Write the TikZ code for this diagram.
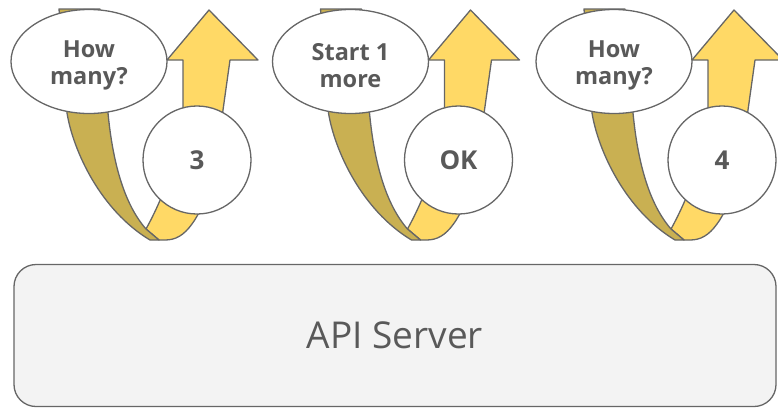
\documentclass[tikz,border=0pt]{standalone}
\usepackage{fontspec}
\setmainfont{Open Sans}
\usetikzlibrary{shapes.geometric}
\definecolor{edge}{HTML}{666666}
\definecolor{txt}{HTML}{595959}
\definecolor{ylw}{HTML}{FFD966}
\definecolor{drk}{HTML}{C9B052}
\definecolor{boxfill}{HTML}{F3F3F3}
\tikzset{
  ribbonline/.style={draw=edge, line width=1.3pt, line join=round},
  bubble/.style={ellipse, draw=edge, fill=white, line width=1.3pt, minimum width=156pt, minimum height=104pt, inner sep=0pt},
  bubbletext/.style={inner sep=0pt, align=center, text=txt, font=\fontsize{23.5}{27}\selectfont\bfseries},
  answer/.style={circle, draw=edge, fill=white, line width=1.3pt, minimum size=108pt, inner sep=0pt, text=txt, font=\fontsize{26}{30}\selectfont\bfseries},
  server/.style={rectangle, rounded corners=22pt, draw=edge, fill=boxfill, line width=1.3pt, minimum width=762pt, minimum height=142pt, text=txt, font=\fontsize{37}{44}\selectfont}
}
\newcommand\uturn[4]{%
  \begin{scope}[xshift=#1pt]
    \path[ribbonline, fill=ylw] (167,60) -- (209,10) -- (258,60) -- (230,60) -- (223,110)
      .. controls (216,170) and (206,205) .. (192,224)
      .. controls (184,235) and (176,240) .. (165,240) -- (159,240) -- (146,229)
      .. controls (162,200) and (183,150) .. (183,107) -- (183,60) -- cycle;
    \path[ribbonline, fill=drk] (59,9) -- (100,9) -- (108,113)
      .. controls (113,165) and (125,205) .. (146,229) -- (159,240) -- (150,240)
      .. controls (100,210) and (73,150) .. (67,113) -- cycle;
    \node[bubble] (q#2) at (89,61.5) {};
    \node[bubbletext] (qt#2) at ([yshift=-4pt]q#2.center) {#3};
    \node[answer] (a#2) at (197,160) {#4};
  \end{scope}}
\begin{document}
\begin{tikzpicture}[x=1pt,y=-1pt]
\useasboundingbox (0,0) rectangle (778,408);
\node[server] (api) at (395,335.5) {API Server};
\uturn{0}{1}{How\\many?}{3}
\uturn{261.5}{2}{Start 1\\more}{OK}
\uturn{525}{3}{How\\many?}{4}
\end{tikzpicture}
\end{document}
